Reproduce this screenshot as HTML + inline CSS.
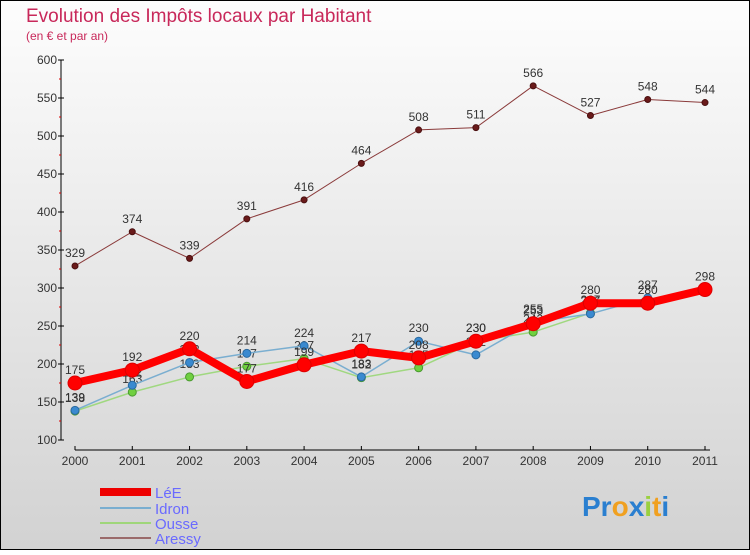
<!DOCTYPE html>
<html><head><meta charset="utf-8"><style>
body{margin:0;width:750px;height:550px;overflow:hidden;font-family:"Liberation Sans",sans-serif}
</style></head><body>
<svg id="c" width="750" height="550" xmlns="http://www.w3.org/2000/svg">
<defs><linearGradient id="bg" x1="0" y1="0" x2="0" y2="1"><stop offset="0" stop-color="#fdfdfd"/><stop offset="1" stop-color="#d2d2d2"/></linearGradient></defs>
<rect x="0.5" y="0.5" width="749" height="549" fill="url(#bg)" stroke="#000"/>
<text x="26" y="22" font-size="19" fill="#c8285a">Evolution des Impôts locaux par Habitant</text>
<text x="26" y="40" font-size="12" fill="#c8285a">(en € et par an)</text>
<g id="axes"></g><g id="series"></g>
<g>
<rect x="100" y="488" width="51" height="8" fill="#e00"/>
<text x="155" y="498" font-size="15" fill="#6a6aff">LéE</text>
<line x1="100" y1="508" x2="151" y2="508" stroke="#7aaed0" stroke-width="2"/>
<text x="155" y="514" font-size="15" fill="#6a6aff">Idron</text>
<line x1="100" y1="523" x2="151" y2="523" stroke="#9fd67a" stroke-width="2"/>
<text x="155" y="529" font-size="15" fill="#6a6aff">Ousse</text>
<line x1="100" y1="538" x2="151" y2="538" stroke="#9a6a6a" stroke-width="2"/>
<text x="155" y="544" font-size="15" fill="#6a6aff">Aressy</text>
</g>
<text x="582" y="516" font-size="28" font-weight="bold"><tspan fill="#2a7fd0">Pr</tspan><tspan fill="#f0a020">o</tspan><tspan fill="#2a7fd0">x</tspan><tspan fill="#9ad040">i</tspan><tspan fill="#f0a020">t</tspan><tspan fill="#2a7fd0">i</tspan></text>
</svg>
<script>
const years=[2000,2001,2002,2003,2004,2005,2006,2007,2008,2009,2010,2011];
const yTicks=[100,150,200,250,300,350,400,450,500,550,600];
const lee=[175,192,220,177,199,217,208,230,253,280,280,298];
const idron=[139,172,202,214,224,183,230,212,255,266,287,null];
const ousse=[138,163,183,197,207,182,195,230,242,267,null,null];
const aressy=[329,374,339,391,416,464,508,511,566,527,548,544];
const NS="http://www.w3.org/2000/svg";
const xs=i=>75+i*(630/11);
const ys=v=>440-(v-100)*0.76;
function mk(p,t,a){const e=document.createElementNS(NS,t);for(const k in a)e.setAttribute(k,a[k]);p.appendChild(e);return e;}
const ax=document.getElementById('axes');
let l=mk(ax,'line',{x1:61,y1:60,x2:61,y2:440,stroke:'#000'});


l=mk(ax,'line',{x1:75,y1:450,x2:710,y2:450,stroke:'#000'});


yTicks.forEach((v,i)=>{
 mk(ax,'line',{x1:58,y1:ys(v),x2:64,y2:ys(v),stroke:'#000'});
 if(i<yTicks.length-1)mk(ax,'line',{x1:59,y1:ys(v+25),x2:61,y2:ys(v+25),stroke:'#d00'});
 const t=mk(ax,'text',{x:57,y:ys(v)+4,'font-size':12,fill:'#333','text-anchor':'end'});t.textContent=v;
 
 
});
years.forEach((y,i)=>{
 mk(ax,'line',{x1:xs(i),y1:446,x2:xs(i),y2:450,stroke:'#000'});
 const t=mk(ax,'text',{x:xs(i),y:465,'font-size':12,fill:'#333','text-anchor':'middle'});t.textContent=y;
 
 
});
const sg=document.getElementById('series');
function draw(data,name,col,w,r,dotFill,dotStroke){
 const g=mk(sg,'g',{});
 
 
 const pts=[];data.forEach((v,i)=>{if(v!=null)pts.push([xs(i),ys(v),v]);});
 mk(g,'polyline',{points:pts.map(p=>p[0]+','+p[1]).join(' '),fill:'none',stroke:col,'stroke-width':w,'stroke-linejoin':'round'});
 pts.forEach(p=>{
  const c=mk(g,'circle',{cx:p[0],cy:p[1],r:r,fill:dotFill,stroke:dotStroke});
  
  
  const t=mk(g,'text',{x:p[0],y:p[1]-9,'font-size':12,fill:'#333','text-anchor':'middle'});t.textContent=p[2];
  
  
 });
}
draw(aressy,'aressy','#8a3a3a',1,3,'#6a1a1a','#4a1010');
draw(ousse,'ousse','#a0d880',1.5,4,'#70d040','#4a9a30');
draw(idron,'idron','#7aaed0',1.5,4,'#3a8ad0','#2a6aa0');
draw(lee,'lee','#f00',8,7,'#f00','#d00');
</script>
</body></html>
